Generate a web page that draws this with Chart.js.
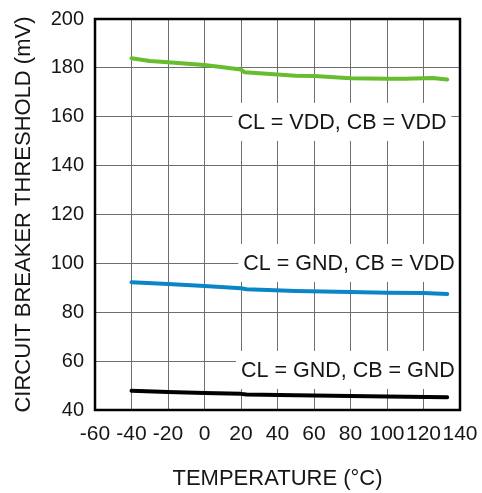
<!DOCTYPE html>
<html lang="en">
<head>
    <meta charset="UTF-8">
    <title>Circuit Breaker Threshold vs Temperature</title>
    <script src="https://cdn.jsdelivr.net/npm/chart.js"></script>
    <style>
        body { margin: 0; background: #fff; }
        #wrap { width: 482px; height: 493px; }
    </style>
</head>
<body>
    <div id="wrap">
        <canvas id="thresholdChart" width="482" height="493"></canvas>
    </div>
    <script>
        // temperature (°C) and threshold (mV)
        const vddVddTemp = [-40, -30, -20, 0, 10, 20, 22, 30, 50, 60, 80, 90, 100, 110, 125, 133];
        const vddVddMv   = [183.9, 182.8, 182.3, 181.2, 180.3, 179.3, 178.2, 177.8, 176.8, 176.7, 175.8, 175.7, 175.5, 175.5, 175.9, 175.2];

        const gndVddTemp = [-40, -20, 0, 20, 23, 50, 80, 100, 120, 133];
        const gndVddMv   = [92.3, 91.6, 90.7, 89.8, 89.4, 88.7, 88.3, 88.0, 87.9, 87.5];

        const gndGndTemp = [-40, -20, 0, 20, 23, 50, 80, 100, 133];
        const gndGndMv   = [47.9, 47.4, 47.0, 46.6, 46.3, 46.0, 45.7, 45.5, 45.2];

        const seriesNames = ['CL = VDD, CB = VDD', 'CL = GND, CB = VDD', 'CL = GND, CB = GND'];

        const FONT = "'Liberation Sans', Arial, sans-serif";
        const TEXT = '#161616';

        function points(xs, ys) {
            return xs.map((x, i) => ({ x: x, y: ys[i] }));
        }

        // where each curve's name sits, in data units (temp, mV)
        const labelAnchors = [
            { x: 75.3, y: 157.9 },
            { x: 79.2, y: 100.2 },
            { x: 78.6, y: 56.4 }
        ];

        const framePlugin = {
            id: 'frame',
            beforeDatasetsDraw(chart) {
                const ctx = chart.ctx;
                const xs = chart.scales.x, ys = chart.scales.y;
                ctx.save();
                ctx.font = '21.5px ' + FONT;
                ctx.textAlign = 'center';
                ctx.textBaseline = 'middle';
                labelAnchors.forEach((a, i) => {
                    const px = xs.getPixelForValue(a.x);
                    const py = ys.getPixelForValue(a.y);
                    const w = ctx.measureText(seriesNames[i]).width;
                    ctx.fillStyle = '#fff';
                    ctx.fillRect(px - w / 2 - 5, py - 19, w + 10, 38);
                    ctx.fillStyle = TEXT;
                    ctx.fillText(seriesNames[i], px, py + 1);
                });
                ctx.restore();
            },
            afterDraw(chart) {
                const a = chart.chartArea;
                const ctx = chart.ctx;
                ctx.save();
                ctx.strokeStyle = '#000';
                ctx.lineWidth = 2.5;
                ctx.strokeRect(a.left, a.top, a.right - a.left, a.bottom - a.top);
                ctx.restore();
            }
        };

        const ctx = document.getElementById('thresholdChart').getContext('2d');
        const thresholdChart = new Chart(ctx, {
            type: 'line',
            data: {
                datasets: [
                    { label: seriesNames[0], data: points(vddVddTemp, vddVddMv), borderColor: '#66bd2e' },
                    { label: seriesNames[1], data: points(gndVddTemp, gndVddMv), borderColor: '#0a85c6' },
                    { label: seriesNames[2], data: points(gndGndTemp, gndGndMv), borderColor: '#000000' }
                ].map(d => Object.assign(d, {
                    borderWidth: 4,
                    pointRadius: 0,
                    tension: 0,
                    fill: false,
                    borderCapStyle: 'round',
                    borderJoinStyle: 'round'
                }))
            },
            options: {
                responsive: false,
                animation: false,
                layout: { padding: { top: 19, right: 22, bottom: 0, left: 0 } },
                plugins: {
                    legend: { display: false },
                    tooltip: { enabled: false }
                },
                scales: {
                    x: {
                        type: 'linear',
                        min: -60,
                        max: 140,
                        ticks: { stepSize: 20, padding: 12, color: TEXT, font: { family: FONT, size: 21 }, maxRotation: 0, autoSkip: false },
                        grid: { color: '#6e6e6e', lineWidth: 1, drawTicks: false },
                        border: { display: false },
                        title: { display: true, text: 'TEMPERATURE (°C)', color: TEXT, font: { family: FONT, size: 22 }, padding: { top: 0, bottom: 1 } },
                        afterFit(scale) {
                            scale.height = 83;
                            scale.paddingLeft = 0;
                            scale.paddingRight = 0;
                        }
                    },
                    y: {
                        min: 40,
                        max: 200,
                        ticks: { stepSize: 20, padding: 11, color: TEXT, font: { family: FONT, size: 20 } },
                        grid: { color: '#6e6e6e', lineWidth: 1, drawTicks: false },
                        border: { display: false },
                        title: { display: true, text: 'CIRCUIT BREAKER THRESHOLD (mV)', color: TEXT, font: { family: FONT, size: 22 }, padding: { top: 11, bottom: 0 } },
                        afterFit(scale) {
                            scale.width = 95;
                            scale.paddingTop = 0;
                            scale.paddingBottom = 0;
                        }
                    }
                }
            },
            plugins: [framePlugin]
        });
    </script>
</body>
</html>
